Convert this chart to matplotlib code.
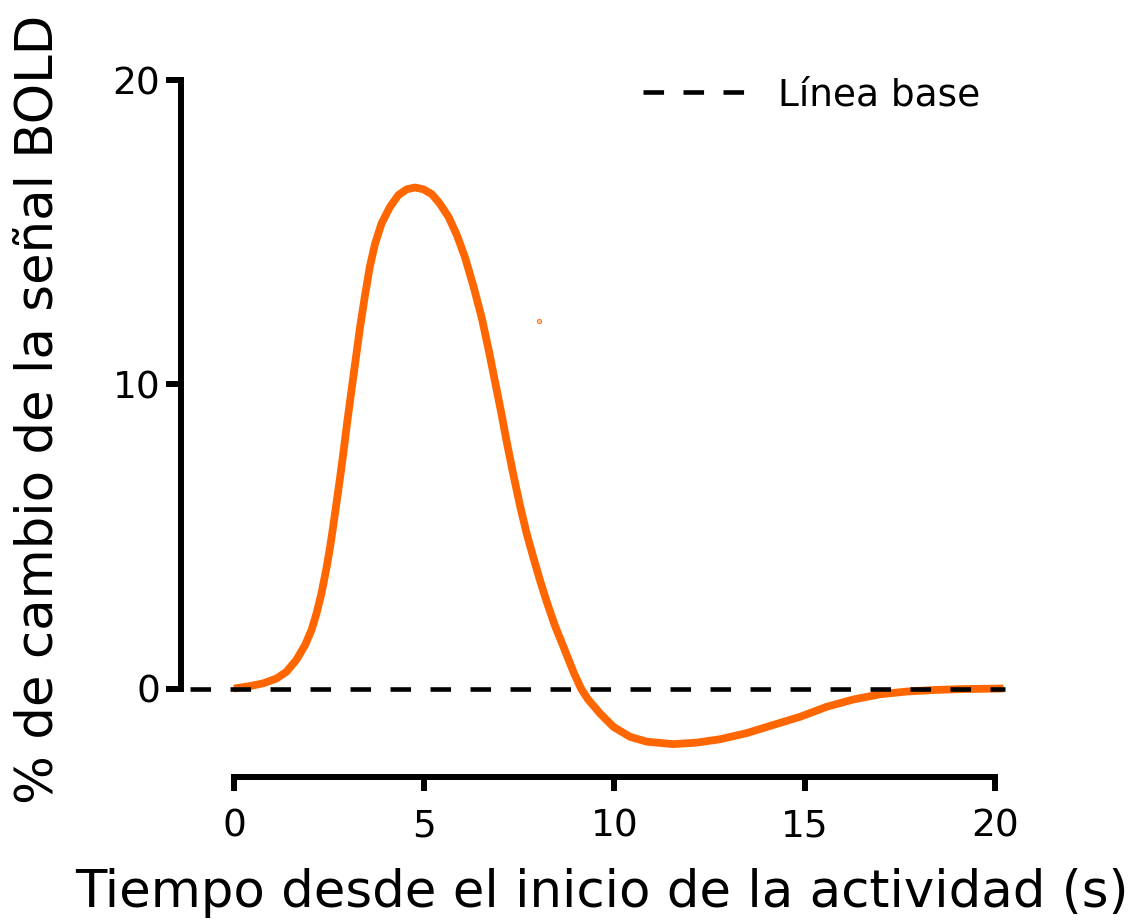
import matplotlib
matplotlib.use("Agg")
import matplotlib.pyplot as plt

# --- data ---
time_s = [0, 0.42, 0.77, 1.12, 1.38, 1.64, 1.87, 2.04, 2.17, 2.30, 2.43, 2.52,
          2.61, 2.70, 2.79, 2.87, 2.96, 3.05, 3.18, 3.31, 3.44, 3.57, 3.71,
          3.88, 4.10, 4.32, 4.54, 4.76, 4.98, 5.20, 5.41, 5.64, 5.86, 6.07,
          6.29, 6.51, 6.70, 6.86, 7.02, 7.17, 7.34, 7.52, 7.69, 7.87, 8.04,
          8.22, 8.44, 8.66, 8.92, 9.12, 9.30, 9.62, 9.97, 10.41, 10.85, 11.55,
          12.16, 12.77, 13.47, 14.17, 14.88, 15.58, 16.28, 16.98, 17.68, 18.38,
          19.08, 20.22]
bold_pct = [0, 0.08, 0.17, 0.33, 0.55, 0.94, 1.43, 1.93, 2.47, 3.13, 3.95, 4.60,
            5.35, 6.15, 6.95, 7.70, 8.60, 9.45, 10.65, 11.85, 12.90, 13.87, 14.64,
            15.30, 15.84, 16.23, 16.42, 16.48, 16.42, 16.26, 15.95, 15.51, 14.91, 14.19,
            13.25, 12.20, 11.10, 10.10, 9.10, 8.10, 7.05, 6.00, 5.11, 4.30, 3.57,
            2.85, 2.05, 1.37, 0.55, 0.0, -0.35, -0.82, -1.26, -1.59, -1.75, -1.83,
            -1.78, -1.67, -1.47, -1.20, -0.93, -0.60, -0.36, -0.19, -0.10, -0.05,
            -0.02, 0.0]
baseline_x = [-1.15, 20.26]
baseline_y = [0, 0]
stray_point = (8.02, 12.09)
x_ticks = [0, 5, 10, 15, 20]
y_ticks = [0, 10, 20]
x_label = "Tiempo desde el inicio de la actividad (s)"
y_label = "% de cambio de la señal BOLD"
legend_label = "Línea base"

plt.rcParams['font.family'] = ['DejaVu Sans']
plt.rcParams['lines.scale_dashes'] = False

fig = plt.figure(figsize=(11.33, 9.22), dpi=100)
ax = fig.add_axes([0.1598, 0.1573, 0.7352, 0.7653])

ax.plot(time_s, bold_pct, color='#FF6600', lw=5.6, solid_capstyle='butt',
        solid_joinstyle='round', zorder=2)
ax.plot(baseline_x, baseline_y, color='black', lw=3.3, dashes=(14.8, 14.0),
        label=legend_label, zorder=3)
ax.plot([stray_point[0]], [stray_point[1]], marker='o', ms=3.0, mec='#FF7A2A',
        mfc='#FFD0B0', mew=0.8, ls='none')

ax.set_xlim(-1.39, 20.5)
ax.set_ylim(-2.91, 20.3)

for s in ['top', 'right']:
    ax.spines[s].set_visible(False)
for s in ['left', 'bottom']:
    ax.spines[s].set_linewidth(4.3)
    ax.spines[s].set_capstyle('projecting')
ax.spines['left'].set_bounds(0, 20)
ax.spines['bottom'].set_bounds(0, 20)

ax.set_xticks(x_ticks)
ax.set_yticks(y_ticks)
ax.tick_params(axis='y', length=11, width=4.3, pad=4, labelsize=27)
ax.tick_params(axis='x', length=10, width=4.3, pad=13, labelsize=27)

ax.set_xlabel(x_label, fontsize=37)
ax.set_ylabel(y_label, fontsize=37)
ax.xaxis.set_label_coords(0.5048, -0.129)
ax.yaxis.set_label_coords(-0.1417, 0.5215)

leg = ax.legend(loc='upper right', frameon=False, fontsize=27,
                handlelength=2.7, handletextpad=0.88, borderpad=0,
                borderaxespad=0, bbox_to_anchor=(0.959, 0.992))

fig.savefig('out.png', dpi=100, facecolor='white')
